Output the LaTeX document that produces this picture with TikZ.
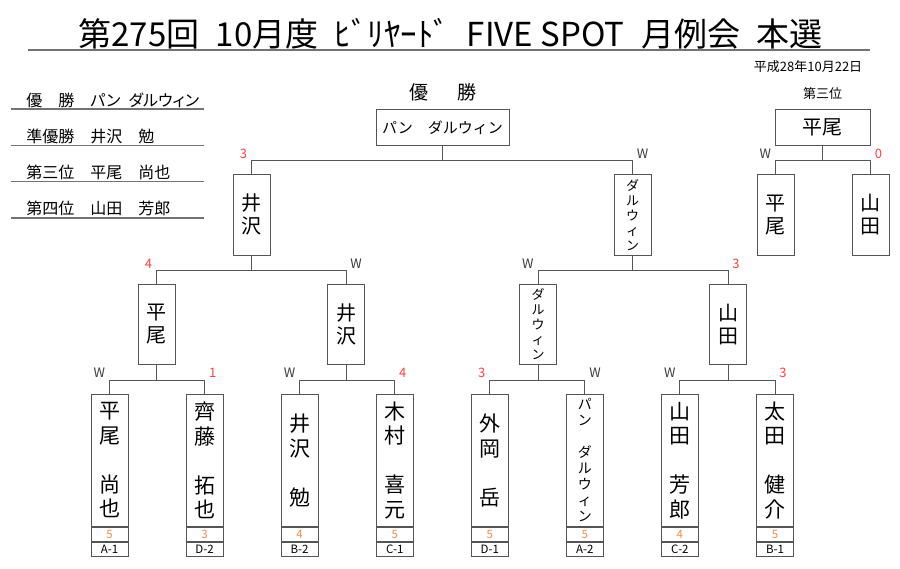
\documentclass[tikz,border=0pt]{standalone}
\usepackage{fontspec}
\setmainfont{Noto Sans CJK JP}
\newfontfamily\pjp{Noto Sans CJK JP}[RawFeature={+palt}]
\definecolor{linegray}{RGB}{85,85,85}
\definecolor{rulegray}{RGB}{115,115,115}
\definecolor{labelgray}{RGB}{60,60,60}
\definecolor{scorered}{RGB}{255,64,64}
\definecolor{scoreorange}{RGB}{247,140,70}
\begin{document}
\begin{tikzpicture}[x=1pt,y=-1pt,line width=0.9pt,
  box/.style={draw=linegray,minimum width=37pt,inner sep=0pt,align=center},
  kan/.style={font=\fontsize{20}{23}\selectfont},
  kana/.style={font=\fontsize{13}{15}\selectfont},
  cell/.style={draw=linegray,minimum width=37pt,minimum height=14pt,inner sep=0pt,font=\fontsize{11.5}{11.5}\selectfont},
  wl/.style={anchor=south east,inner sep=1pt,xshift=-3pt,yshift=1pt,font=\fontsize{13}{13}\selectfont},
  wr/.style={anchor=south west,inner sep=1pt,xshift=3pt,yshift=1pt,font=\fontsize{13}{13}\selectfont},
  line/.style={draw=linegray}]
\useasboundingbox (0,0) rectangle (900,568);

% Title
\node[font=\fontsize{33}{33}\selectfont] (title) at (450.5,34) {第275回\enspace 10月度\enspace ﾋﾞﾘﾔｰﾄﾞ\enspace FIVE SPOT\enspace 月例会\enspace 本選};
\draw[draw=rulegray,line width=2.5pt] (28,50) -- (870,50);
\node[anchor=east,font=\fontsize{13}{13}\selectfont] (date) at (866,67) {平成28年10月22日};

% Results list
\foreach \txt [count=\i] in {優　勝　{\pjp パン\hspace{8pt}ダルウィン},準優勝　井沢　勉,第三位　平尾　尚也,第四位　山田　芳郎}
{
  \pgfmathsetmacro\ry{109+36.3*(\i-1)}
  \node[anchor=base west,inner sep=0pt,font=\fontsize{16}{16}\selectfont] (res\i) at (26,\ry-3) {\txt};
  \draw[draw=rulegray,line width=1.5pt] (11,\ry) -- (204,\ry);
}

% Final
\node[font=\fontsize{19}{19}\selectfont] (champlbl) at (443,92) {優\hspace{1.5em}勝};
\node[box,minimum width=133pt,minimum height=36pt,anchor=north,font=\fontsize{15}{15}\selectfont] (champ) at (442.5,109) {パン　ダルウィン};

% Semi finals
\node[box,kan,minimum height=81pt,anchor=north] (sf1) at (251.5,174) {井\\沢};
\node[box,kana,minimum height=81pt,anchor=north] (sf2) at (632.5,174) {ダ\\ル\\ウ\\ィ\\ン};

% Quarter finals
\node[box,kan,minimum height=80pt,anchor=north] (qf1) at (156.5,284) {平\\尾};
\node[box,kan,minimum height=80pt,anchor=north] (qf2) at (346,284) {井\\沢};
\node[box,kana,minimum height=80pt,anchor=north] (qf3) at (538,284) {ダ\\ル\\ウ\\ィ\\ン};
\node[box,kan,minimum height=80pt,anchor=north] (qf4) at (728,284) {山\\田};

% Players
\foreach \nm/\fs/\fb/\sc/\gr [count=\i] in {
  {平\\尾\\[24.5pt]尚\\也}/21/24.5/5/A-1,
  {齊\\藤\\[24.5pt]拓\\也}/21/24.5/3/D-2,
  {井\\沢\\[24.5pt]勉}/21/24.5/4/B-2,
  {木\\村\\[24.5pt]喜\\元}/21/24.5/5/C-1,
  {外\\岡\\[24.5pt]岳}/21/24.5/5/D-1,
  {パ\\ン\\[16pt]ダ\\ル\\ウ\\ィ\\ン}/14/16/5/A-2,
  {山\\田\\[24.5pt]芳\\郎}/21/24.5/4/C-2,
  {太\\田\\[24.5pt]健\\介}/21/24.5/5/B-1}
{
  \pgfmathsetmacro\lx{109.5+95.07*(\i-1)}
  \node[box,minimum height=132pt,anchor=north,font=\fontsize{\fs}{\fb}\selectfont] (lf\i) at (\lx,394) {\nm};
  \node[cell,anchor=north,text=scoreorange] (sc\i) at (lf\i.south) {\sc};
  \node[cell,anchor=north] (gr\i) at (sc\i.south) {\gr};
}

% Third place
\node[font=\fontsize{13}{13}\selectfont] (thirdlbl) at (822.5,94) {第三位};
\node[box,kan,minimum width=95pt,minimum height=36pt,anchor=north] (third) at (822.5,109) {平尾};
\node[box,kan,minimum height=81pt,anchor=north] (tp1) at (775.5,174) {平\\尾};
\node[box,kan,minimum height=81pt,anchor=north] (tp2) at (870.5,174) {山\\田};

% Brackets
\draw[line] (champ.south) -- ++(0,15) coordinate (j0);
\draw[line] (sf1.north) |- (j0) -| (sf2.north);
\node[wl,text=scorered] at (sf1.north |- j0) {3};
\node[wr,text=labelgray] at (sf2.north |- j0) {W};

\draw[line] (sf1.south) -- ++(0,15) coordinate (js1);
\draw[line] (qf1.north) |- (js1) -| (qf2.north);
\node[wl,text=scorered] at (qf1.north |- js1) {4};
\node[wr,text=labelgray] at (qf2.north |- js1) {W};

\draw[line] (sf2.south) -- ++(0,15) coordinate (js2);
\draw[line] (qf3.north) |- (js2) -| (qf4.north);
\node[wl,text=labelgray] at (qf3.north |- js2) {W};
\node[wr,text=scorered] at (qf4.north |- js2) {3};

\foreach \k/\a/\b/\la/\ca/\lb/\cb in {1/1/2/W/labelgray/1/scorered,2/3/4/W/labelgray/4/scorered,3/5/6/3/scorered/W/labelgray,4/7/8/W/labelgray/3/scorered}
{
  \draw[line] (qf\k.south) -- ++(0,15.5) coordinate (jq\k);
  \draw[line] (lf\a.north) |- (jq\k) -| (lf\b.north);
  \node[wl,text=\ca] at (lf\a.north |- jq\k) {\la};
  \node[wr,text=\cb] at (lf\b.north |- jq\k) {\lb};
}

\draw[line] (third.south) -- ++(0,15) coordinate (jt);
\draw[line] (tp1.north) |- (jt) -| (tp2.north);
\node[wl,text=labelgray] at (tp1.north |- jt) {W};
\node[wr,text=scorered] at (tp2.north |- jt) {0};

\end{tikzpicture}
\end{document}
